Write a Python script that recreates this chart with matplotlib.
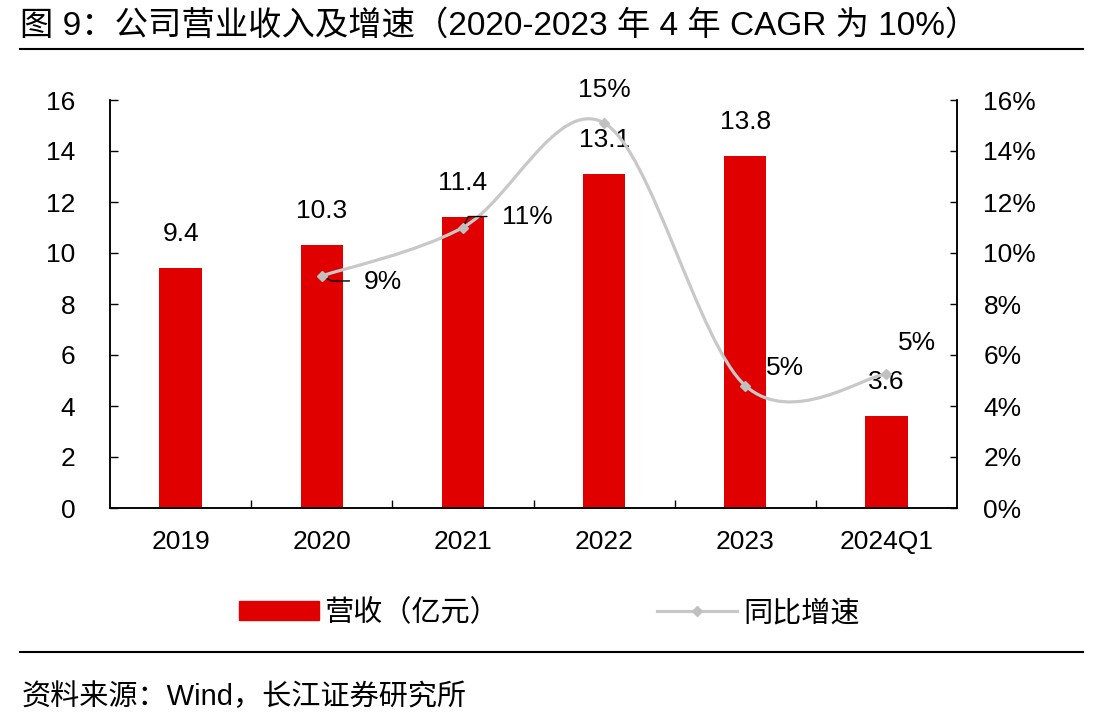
import numpy as np
import matplotlib
matplotlib.use('Agg')
import matplotlib.pyplot as plt
from matplotlib.path import Path
from matplotlib.patches import PathPatch, Patch
from matplotlib.lines import Line2D
from matplotlib.ticker import FuncFormatter

plt.rcParams['font.family'] = ['Liberation Sans', 'Noto Sans CJK SC']

# data
categories = ['2019', '2020', '2021', '2022', '2023', '2024Q1']
revenue = [9.4, 10.3, 11.4, 13.1, 13.8, 3.6]
growth_cats = ['2020', '2021', '2022', '2023', '2024Q1']
growth = [9.1, 11.0, 15.1, 4.8, 5.25]
growth_labels = ['9%', '11%', '15%', '5%', '5%']

title = '图 9：公司营业收入及增速（2020-2023 年 4 年 CAGR 为 10%）'
source = '资料来源：Wind，长江证券研究所'
legend_labels = ['营收（亿元）', '同比增速']

RED = '#e00000'
GREY = '#c8c8c8'
FS = 19

W, H = 1113, 724
fig = plt.figure(figsize=(W / 100, H / 100), dpi=100)
ax = fig.add_axes([110 / W, 1 - 508 / H, (957 - 110) / W, (508 - 100) / H])
ax2 = ax.twinx()

x = np.arange(len(categories))
ax.bar(x, revenue, width=0.3, color=RED, zorder=2)
ax.set_xlim(-0.5, len(categories) - 0.5)
ax.set_ylim(0, 16)
ax.set_yticks(np.arange(0, 17, 2))
ax.set_xticks(x)
ax.set_xticklabels(categories)
ax.set_xticks(np.arange(0.5, len(categories) - 0.5, 1), minor=True)
ax.tick_params(axis='x', which='major', length=0, pad=16, labelsize=FS)
ax.tick_params(axis='x', which='minor', direction='in', length=6, width=1)
ax.tick_params(axis='y', direction='in', length=6, width=1, pad=25, labelsize=FS)

for v, xi in zip(revenue, x):
    ax.annotate(f'{v:.1f}', xy=(xi, v), xytext=(0, 24.5), textcoords='offset points',
                ha='center', va='center', fontsize=FS)

# growth line, smoothed like the office chart
gx = [categories.index(c) for c in growth_cats]
pts = list(zip(gx, growth))
verts = [pts[0]]
codes = [Path.MOVETO]
for i in range(len(pts) - 1):
    p0 = pts[i - 1] if i > 0 else pts[i]
    p1 = pts[i]
    p2 = pts[i + 1]
    p3 = pts[i + 2] if i + 2 < len(pts) else pts[i + 1]
    c1 = (p1[0] + (p2[0] - p0[0]) / 6, p1[1] + (p2[1] - p0[1]) / 6)
    c2 = (p2[0] - (p3[0] - p1[0]) / 6, p2[1] - (p3[1] - p1[1]) / 6)
    verts += [c1, c2, p2]
    codes += [Path.CURVE4] * 3
ax2.add_patch(PathPatch(Path(verts, codes), facecolor='none', edgecolor=GREY, lw=2.3, zorder=3))
ax2.plot(gx, growth, ls='none', marker='D', ms=5, color='#c0c0c0', zorder=4)

ax2.set_ylim(0, 16)
ax2.set_yticks(np.arange(0, 17, 2))
ax2.yaxis.set_major_formatter(FuncFormatter(lambda v, p: f'{v:.0f}%'))
ax2.tick_params(axis='y', direction='in', length=5, width=1, pad=19, labelsize=FS)

# label offsets (points) and leader lines
label_pos = [(30, -4.5, 'left'), (28, 7.4, 'left'), (0, 24, 'center'), (15, 12.4, 'left'), (22, 22.5, 'center')]
leaders = {0: (20, -3.6, -26.6), 1: (17.3, 7.9, 64)}
for i, (xi, g, lab) in enumerate(zip(gx, growth, growth_labels)):
    dx, dy, ha = label_pos[i]
    ax2.annotate(lab, xy=(xi, g), xytext=(dx, dy), textcoords='offset points',
                 ha=ha, va='center', fontsize=FS, zorder=5)
    if i in leaders:
        lx, ly, ang = leaders[i]
        ax2.annotate('', xy=(xi, g), xytext=(lx, ly), textcoords='offset points',
                     arrowprops=dict(arrowstyle='-', color='black', lw=1, shrinkA=0, shrinkB=0,
                                     patchA=None, connectionstyle=f'angle,angleA=0,angleB={ang},rad=0'))

for a in (ax, ax2):
    a.spines['top'].set_visible(False)
    for s in ('left', 'right', 'bottom'):
        a.spines[s].set_linewidth(1.1)

handles = [Patch(color=RED),
           Line2D([], [], color=GREY, lw=2.3, marker='D', ms=5, mfc='#c0c0c0', mec='#c0c0c0')]
fig.legend(handles, legend_labels, loc='center', bbox_to_anchor=(549 / W, 1 - 613 / H), ncol=2,
           frameon=False, fontsize=21, handlelength=2.75, handleheight=0.6,
           handletextpad=0.2, columnspacing=5.4)

fig.text(20 / W, 1 - 26 / H, title, ha='left', va='center', fontsize=24)
fig.add_artist(Line2D([20 / W, 1083 / W], [1 - 49 / H] * 2, color='black', lw=1.5, transform=fig.transFigure))
fig.add_artist(Line2D([20 / W, 1083 / W], [1 - 652 / H] * 2, color='black', lw=1.5, transform=fig.transFigure))
fig.text(22 / W, 1 - 697 / H, source, ha='left', va='center', fontsize=21)

fig.savefig('out.png', dpi=100)
